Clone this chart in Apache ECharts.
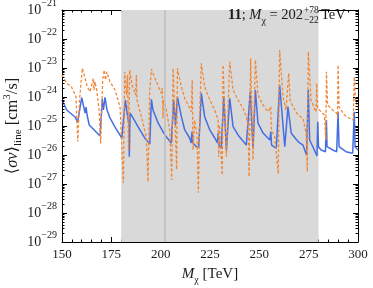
<!DOCTYPE html>
<html>
<head>
<meta charset="utf-8">
<script src="https://cdn.jsdelivr.net/npm/echarts@6/dist/echarts.min.js"></script>
<style>
html,body{margin:0;padding:0;background:#fff;}
#c{width:373px;height:288px;}
</style>
</head>
<body>
<div id="c"></div>
<script>
// ---- data (M_chi in TeV, <sigma v> in cm^3/s) ----
const xTicks = [150, 175, 200, 225, 250, 275, 300];
const yDecades = [-29, -28, -27, -26, -25, -24, -23, -22, -21];
const bandRange = [180, 280];
const bestFit = 202;

const blueLine = [
[150.0,7.9e-25],[152.4,3.56e-25],[156.6,2.04e-25],[157.9,1.37e-25],[160.0,9.5e-25],
[161.7,2.8e-25],[162.2,4.5e-25],[162.7,2.4e-25],[163.8,1.08e-25],[169.3,4.5e-26],
[170.4,8.5e-25],[171.0,3.56e-25],[171.8,9.8e-25],[172.8,3.56e-25],[174.3,1.89e-25],
[176.9,9.2e-26],[180.3,3.8e-26],[182.1,7.9e-25],[182.9,3.04e-25],[184.0,1.08e-25],
[184.1,8.7e-27],[184.5,2.8e-25],[186.0,1.89e-25],[188.5,9.5e-26],[191.9,3.86e-26],
[194.5,2.4e-26],[195.3,8.3e-25],[196.1,3.56e-25],[198.7,1.27e-25],[202.1,4.9e-26],
[205.4,2.6e-26],[206.6,7.9e-25],[207.5,1.08e-25],[208.5,1.0e-24],[210.5,2.1e-25],
[212.2,7.3e-26],[214.7,3.86e-26],[215.5,2.6e-26],[215.9,6.4e-26],[216.4,2.6e-26],
[218.1,1.93e-26],[219.3,1.89e-26],[220.6,1.34e-24],[222.3,2.1e-25],[224.9,7.3e-26],
[227.4,3.86e-26],[228.8,2.6e-26],[229.1,5.6e-26],[229.6,2.2e-26],[230.7,1.7e-26],
[232.0,1.02e-24],[233.3,1.49e-26],[235.0,9.0e-25],[236.7,9.5e-26],[239.2,4.9e-26],
[243.4,2.2e-26],[244.3,1.93e-26],[245.4,1.52e-24],[246.8,1.7e-26],[248.0,1.74e-24],
[249.3,1.27e-25],[251.9,5.7e-26],[255.3,3.3e-26],[255.8,6.4e-26],[256.2,2.2e-26],
[258.6,1.7e-26],[260.3,2.6e-24],[262.9,1.93e-26],[264.5,4.6e-25],[266.2,5.6e-26],
[269.6,2.9e-26],[272.1,2.2e-26],[273.9,1.0e-26],[274.8,1.74e-24],[275.5,3.3e-26],
[277.9,1.49e-26],[279.2,9.2e-27],[279.6,1.41e-25],[280.0,1.89e-26],[281.3,1.49e-26],
[283.5,1.3e-26],[284.0,1.61e-25],[284.3,1.93e-26],[287.2,1.49e-26],[289.2,1.3e-26],
[289.9,3.1e-25],[290.4,1.93e-26],[293.9,1.3e-26],[297.3,1.15e-26],[298.1,3.1e-25],
[298.5,1.93e-26],[300.0,1.49e-26]
];

const orangeLine = [
[150.0,5.7e-24],[152.4,2.97e-24],[154.9,2.16e-24],[157.1,1.02e-24],[158.0,2.9e-26],
[158.9,7.9e-25],[160.3,9.8e-24],[161.7,4.4e-24],[162.8,2.26e-24],[164.2,1.52e-24],
[165.9,4.4e-24],[166.2,1.74e-24],[166.7,3.37e-24],[167.6,1.74e-24],[168.8,3.56e-25],
[169.6,2.5e-26],[170.6,3.86e-24],[171.4,8.5e-24],[172.0,3.86e-24],[172.7,7.4e-24],
[174.3,3.37e-24],[176.9,1.74e-24],[179.4,4.6e-25],[181.1,1.11e-27],[181.8,7.4e-24],
[182.7,1.17e-24],[183.2,5.7e-24],[183.7,1.49e-26],[184.3,8.5e-24],[185.5,2.6e-24],
[187.3,1.17e-24],[187.7,5.7e-24],[188.0,7.9e-25],[190.2,2.1e-25],[192.7,4.3e-26],
[193.6,1.2e-27],[194.4,1.34e-24],[195.3,9.0e-24],[197.8,3.37e-24],[200.3,1.34e-24],
[200.8,2.04e-24],[201.2,1.85e-25],[201.4,7.9e-25],[202.9,3.56e-25],[204.6,7.3e-26],
[205.6,1.37e-27],[206.3,9.8e-24],[207.1,3.56e-25],[208.1,3.2e-27],[208.5,9.8e-24],
[208.8,7.3e-24],[210.5,2.26e-24],[212.2,9.0e-25],[214.7,4.1e-25],[215.5,3.1e-25],
[216.0,3.86e-24],[216.4,1.49e-26],[217.2,1.61e-25],[218.4,4.9e-26],[219.1,5.0e-28],
[219.7,1.61e-25],[220.6,1.45e-23],[222.3,2.26e-24],[224.9,7.9e-25],[227.4,3.56e-25],
[229.1,1.61e-25],[229.4,8.7e-27],[229.8,1.08e-25],[231.2,2.04e-27],[231.6,1.27e-23],
[233.3,8.7e-27],[235.0,1.65e-23],[236.7,1.74e-24],[239.2,7.9e-25],[241.7,4.1e-25],
[243.4,2.1e-25],[244.3,9.5e-26],[244.8,1.79e-27],[245.6,2.16e-23],[246.8,6.7e-27],
[248.0,1.89e-23],[249.3,1.17e-24],[251.9,5.3e-25],[254.4,3.1e-25],[255.8,4.6e-25],
[256.1,7.3e-26],[257.8,4.3e-26],[259.6,2.2e-27],[260.3,4.18e-23],[262.0,1.02e-24],
[263.5,3.56e-25],[264.9,6.6e-24],[265.6,7.9e-25],[267.1,4.6e-25],[269.6,2.4e-25],
[272.1,1.85e-25],[273.7,5.7e-26],[274.3,2.65e-27],[274.8,3.65e-23],[276.2,7.9e-25],
[277.9,4.1e-25],[278.7,3.04e-25],[279.1,2.97e-24],[279.5,4.2e-25],[281.3,3.1e-25],
[283.0,2.4e-25],[283.7,3.3e-26],[284.0,7.4e-24],[284.6,5.3e-25],[287.2,3.56e-25],
[289.2,2.74e-25],[289.6,1.89e-25],[289.9,1.27e-23],[290.4,4.6e-25],[293.1,2.4e-25],
[295.6,1.85e-25],[297.6,1.61e-25],[298.1,5.0e-24],[298.8,7.9e-25],[300.0,4.2e-25]
];

// ---- rendering ----
// The y axis is logarithmic: values are placed on a linear axis of log10(value)
// (ECharts' log scale rounds values this small to zero).
const FONT = '"Liberation Serif", "DejaVu Serif", serif';
const toLog = arr => arr.map(p => [p[0], Math.log10(p[1])]);
const minorVals = [];
for (let i = 0; i < yDecades.length - 1; i++) {
  for (let k = 2; k <= 9; k++) minorVals.push([150, yDecades[i] + Math.log10(k)]);
}
const yMin = yDecades[0], yMax = yDecades[yDecades.length - 1];
const xMin = xTicks[0], xMax = xTicks[xTicks.length - 1];
const INK = '#1a1a1a';

const supRich = {
  b: {fontFamily: FONT, fontSize: 14, lineHeight: 24, color: INK},
  s: {fontFamily: FONT, fontSize: 10, lineHeight: 12, verticalAlign: 'top', color: INK}
};
const xNameRich = {
  n: {fontFamily: FONT, fontSize: 15, lineHeight: 22, color: INK},
  i: {fontFamily: FONT, fontSize: 15, lineHeight: 22, fontStyle: 'italic', color: INK},
  sub: {fontFamily: FONT, fontSize: 10, lineHeight: 10, verticalAlign: 'bottom', color: INK}
};
const yNameRich = {
  n: {fontFamily: FONT, fontSize: 16.5, lineHeight: 22, color: INK},
  i: {fontFamily: FONT, fontSize: 16.5, lineHeight: 22, fontStyle: 'italic', color: INK},
  sub: {fontFamily: FONT, fontSize: 11, lineHeight: 10, verticalAlign: 'bottom', color: INK},
  sup: {fontFamily: FONT, fontSize: 11, lineHeight: 10, verticalAlign: 'top', color: INK}
};

const axisCommon = {
  axisLine: {show: true, lineStyle: {color: '#000', width: 1}},
  splitLine: {show: false}
};

const chart = echarts.init(document.getElementById('c'), null, {renderer: 'canvas'});
chart.setOption({
  animation: false,
  backgroundColor: '#fff',
  grid: {left: 62, right: 15, top: 10, bottom: 46, containLabel: false, outerBoundsMode: 'none'},
  xAxis: [
    Object.assign({
      type: 'value', min: xMin, max: xMax, interval: 25, position: 'bottom',
      axisTick: {show: true, inside: true, length: 5, lineStyle: {color: '#000'}},
      minorTick: {show: true, splitNumber: 5, length: 2.5, lineStyle: {color: '#000'}},
      axisLabel: {show: true, fontFamily: FONT, fontSize: 13, color: INK, margin: 6},
      name: '{i|M}{sub|χ}{n| [TeV]}', nameLocation: 'middle', nameGap: 21,
      nameMoveOverlap: false,
      nameTextStyle: {rich: xNameRich}
    }, axisCommon),
    Object.assign({
      type: 'value', min: xMin, max: xMax, interval: 25, position: 'top',
      axisTick: {show: true, inside: true, length: 5, lineStyle: {color: '#000'}},
      minorTick: {show: true, splitNumber: 5, length: 2.5, lineStyle: {color: '#000'}},
      axisLabel: {show: false}
    }, axisCommon)
  ],
  yAxis: [
    Object.assign({
      type: 'value', min: yMin, max: yMax, interval: 1, position: 'left',
      axisTick: {show: true, inside: true, length: 5, lineStyle: {color: '#000'}},
      axisLabel: {
        show: true, margin: 5,
        formatter: function (v) {
          const e = Math.round(v);
          return '{b|10}{s|' + (e < 0 ? '−' : '') + Math.abs(e) + '}';
        },
        rich: supRich
      },
      name: '{n|⟨}{i|σv}{n|⟩}{sub|line}{n| [cm}{sup|3}{n|/s]}',
      nameLocation: 'middle', nameGap: 38, nameRotate: 90,
      nameMoveOverlap: false,
      nameTextStyle: {rich: yNameRich}
    }, axisCommon),
    Object.assign({
      type: 'value', min: yMin, max: yMax, interval: 1, position: 'right',
      axisTick: {show: true, inside: true, length: 5, lineStyle: {color: '#000'}},
      axisLabel: {show: false}
    }, axisCommon)
  ],
  series: [
    {
      type: 'line', data: [], z: 1, silent: true,
      markArea: {silent: true, itemStyle: {color: '#d9d9d9'},
        data: [[{xAxis: bandRange[0]}, {xAxis: bandRange[1]}]]},
      markLine: {silent: true, symbol: 'none', label: {show: false},
        lineStyle: {color: '#bcbcbc', type: 'solid', width: 1.5},
        data: [{xAxis: bestFit}]}
    },
    {
      type: 'line', data: toLog(blueLine), z: 3, showSymbol: false, silent: true,
      lineStyle: {color: '#456ee2', width: 1.5}
    },
    {
      type: 'line', data: toLog(orangeLine), z: 4, showSymbol: false, silent: true,
      lineStyle: {color: '#f0883a', width: 1.3, type: [3, 2]}
    },
    {
      type: 'custom', data: minorVals, z: 6, silent: true, clip: false,
      encode: {x: 0, y: 1},
      renderItem: function (params, api) {
        const v = api.value(1);
        const pL = api.coord([xMin, v]);
        const pR = api.coord([xMax, v]);
        const y = Math.round(pL[1]) + 0.5;
        return {type: 'group', children: [
          {type: 'line', shape: {x1: pL[0], y1: y, x2: pL[0] + 2.5, y2: y}, style: {stroke: '#000', lineWidth: 1}},
          {type: 'line', shape: {x1: pR[0] - 2.5, y1: y, x2: pR[0], y2: y}, style: {stroke: '#000', lineWidth: 1}}
        ]};
      }
    }
  ],
  graphic: [
    {type: 'text', x: 303, y: 15, z: 10, silent: true,
      style: {text: '{b|11}{n|; }{i|M}{sub|χ}{n| = 202}', align: 'right', verticalAlign: 'middle',
        rich: {
          b: {fontFamily: FONT, fontSize: 14.5, fontWeight: 'bold', lineHeight: 22, fill: INK},
          n: {fontFamily: FONT, fontSize: 14.5, lineHeight: 22, fill: INK},
          i: {fontFamily: FONT, fontSize: 14.5, fontStyle: 'italic', lineHeight: 22, fill: INK},
          sub: {fontFamily: FONT, fontSize: 10, lineHeight: 10, verticalAlign: 'bottom', fill: INK}
        }}},
    {type: 'text', x: 304, y: 10.5, z: 10, silent: true,
      style: {text: '+78', font: '9.5px ' + FONT, align: 'left', verticalAlign: 'middle', fill: INK}},
    {type: 'text', x: 304, y: 20, z: 10, silent: true,
      style: {text: '−22', font: '9.5px ' + FONT, align: 'left', verticalAlign: 'middle', fill: INK}},
    {type: 'text', x: 321, y: 15, z: 10, silent: true,
      style: {text: 'TeV', font: '14.5px ' + FONT, align: 'left', verticalAlign: 'middle', fill: INK}}
  ]
});
</script>
</body>
</html>
